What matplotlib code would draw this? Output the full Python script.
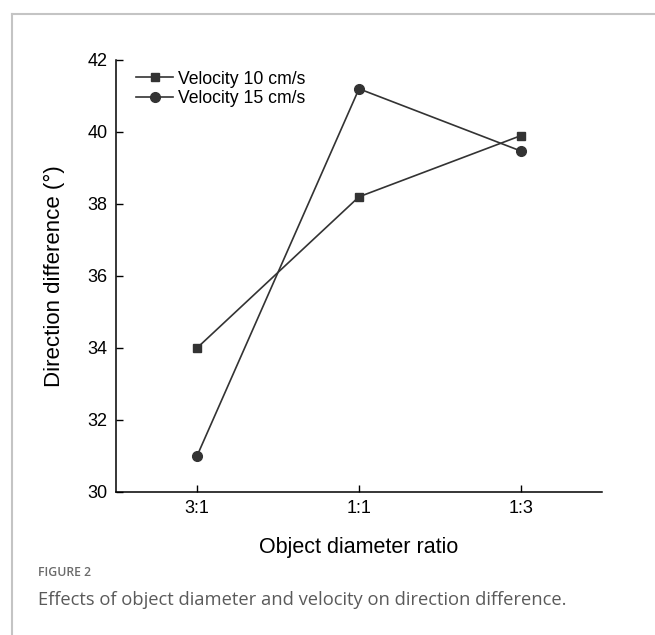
import matplotlib
matplotlib.use('Agg')
import matplotlib.pyplot as plt
from matplotlib.lines import Line2D

# Data.
ratios = ['3:1', '1:1', '1:3']
vel_10 = [34.0, 38.2, 39.9]
vel_15 = [31.0, 41.2, 39.47]
labels = ['Velocity 10 cm/s', 'Velocity 15 cm/s']

plt.rcParams['font.family'] = ['Liberation Sans', 'DejaVu Sans']

fig = plt.figure(figsize=(6.55, 6.35), dpi=100)
ax = fig.add_axes([116 / 655, 1 - 492 / 635, 486 / 655, 432 / 635])

x = range(len(ratios))
ax.plot(x, vel_10, '-s', color='#333333', lw=1.2, ms=6, label=labels[0])
ax.plot(x, vel_15, '-o', color='#333333', lw=1.2, ms=7, label=labels[1])

ax.set_xlim(-0.5, 2.5)
ax.set_ylim(30, 42)
ax.set_xticks(list(x))
ax.set_xticklabels(ratios)
ax.set_yticks(range(30, 43, 2))
ax.tick_params(direction='in', length=5, width=1, labelsize=13, pad=6)
ax.tick_params(axis='y', pad=6)
for s in ['top', 'right']:
    ax.spines[s].set_visible(False)
for s in ['left', 'bottom']:
    ax.spines[s].set_linewidth(1.1)

ax.set_xlabel('Object diameter ratio', fontsize=15.5, labelpad=14)
ax.set_ylabel('Direction difference (°)', fontsize=16, labelpad=16)

ax.legend(loc='upper left', bbox_to_anchor=(0.02, 1.0), frameon=False,
          fontsize=12.7, handlelength=2.1, handletextpad=0.25,
          labelspacing=0.15, borderaxespad=0.2)

# Card frame (top and left edges) and caption.
fig.add_artist(Line2D([12 / 655, 12 / 655], [0, 1 - 14 / 635],
                      color='#c4c4c4', lw=1.5))
fig.add_artist(Line2D([12 / 655, 1], [1 - 14 / 635, 1 - 14 / 635],
                      color='#c4c4c4', lw=1.5))
fig.text(38 / 655, 1 - 573 / 635, 'FIGURE 2', fontsize=8.8, color='#6b6b6b',
         family='Open Sans', weight='semibold', va='center')
fig.text(38 / 655, 1 - 600 / 635,
         'Effects of object diameter and velocity on direction difference.',
         fontsize=13.2, color='#5a5a5a', family='Open Sans', va='center')

fig.savefig('out.png', dpi=100, facecolor='white')
